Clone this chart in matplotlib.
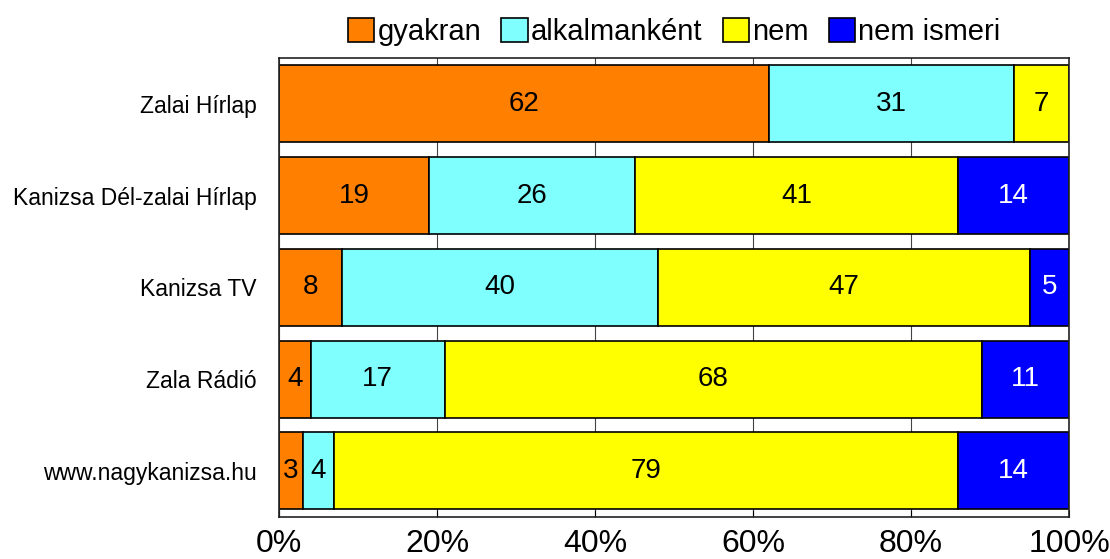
import matplotlib.pyplot as plt
import numpy as np

plt.rcParams['font.family'] = ['Liberation Sans', 'DejaVu Sans']

categories = ['Zalai Hírlap', 'Kanizsa Dél-zalai Hírlap', 'Kanizsa TV', 'Zala Rádió', 'www.nagykanizsa.hu']
series_names = ['gyakran', 'alkalmanként', 'nem', 'nem ismeri']
gyakran = [62, 19, 8, 4, 3]
alkalmankent = [31, 26, 40, 17, 4]
nem = [7, 41, 47, 68, 79]
nem_ismeri = [0, 14, 5, 11, 14]
colors = ['#FF8000', '#80FFFF', '#FFFF00', '#0000FF']
text_colors = ['black', 'black', 'black', 'white']
x_ticks = [0, 20, 40, 60, 80, 100]

fig = plt.figure(figsize=(11.1, 5.59), dpi=100)
ax = fig.add_axes([0.2514, 0.0755, 0.7117, 0.8207])

y = np.arange(len(categories))
left = np.zeros(len(categories))
for name, vals, col, tc in zip(series_names, [gyakran, alkalmankent, nem, nem_ismeri], colors, text_colors):
    vals = np.array(vals, dtype=float)
    ax.barh(y, vals, left=left, height=0.84, color=col, edgecolor='black', linewidth=1.2, label=name, zorder=2)
    for yi, l, v in zip(y, left, vals):
        if v > 0:
            ax.text(l + v / 2, yi, f'{int(v)}', ha='center', va='center', fontsize=20, color=tc, zorder=3)
    left += vals

ax.set_ylim(len(categories) - 0.5, -0.5)
ax.set_xlim(0, 100)
ax.set_xticks(x_ticks)
ax.set_xticklabels([f'{t}%' for t in x_ticks], fontsize=23)
ax.set_yticks(y)
ax.set_yticklabels(categories, fontsize=16.5)
ax.tick_params(axis='x', direction='in', length=5, pad=9)
ax.tick_params(axis='y', length=0, pad=16)
ax.xaxis.grid(True, color='#444444', linewidth=0.8, zorder=0)
ax.set_axisbelow(True)
for s in ax.spines.values():
    s.set_linewidth(1.2)
    s.set_color('#222222')

ax.legend(loc='lower center', bbox_to_anchor=(0.5, 0.995), ncol=4, frameon=False, fontsize=21,
          handlelength=0.9, handleheight=0.9, handletextpad=0.1, columnspacing=0.7, borderaxespad=0.1)

fig.savefig('out.png', dpi=100)
